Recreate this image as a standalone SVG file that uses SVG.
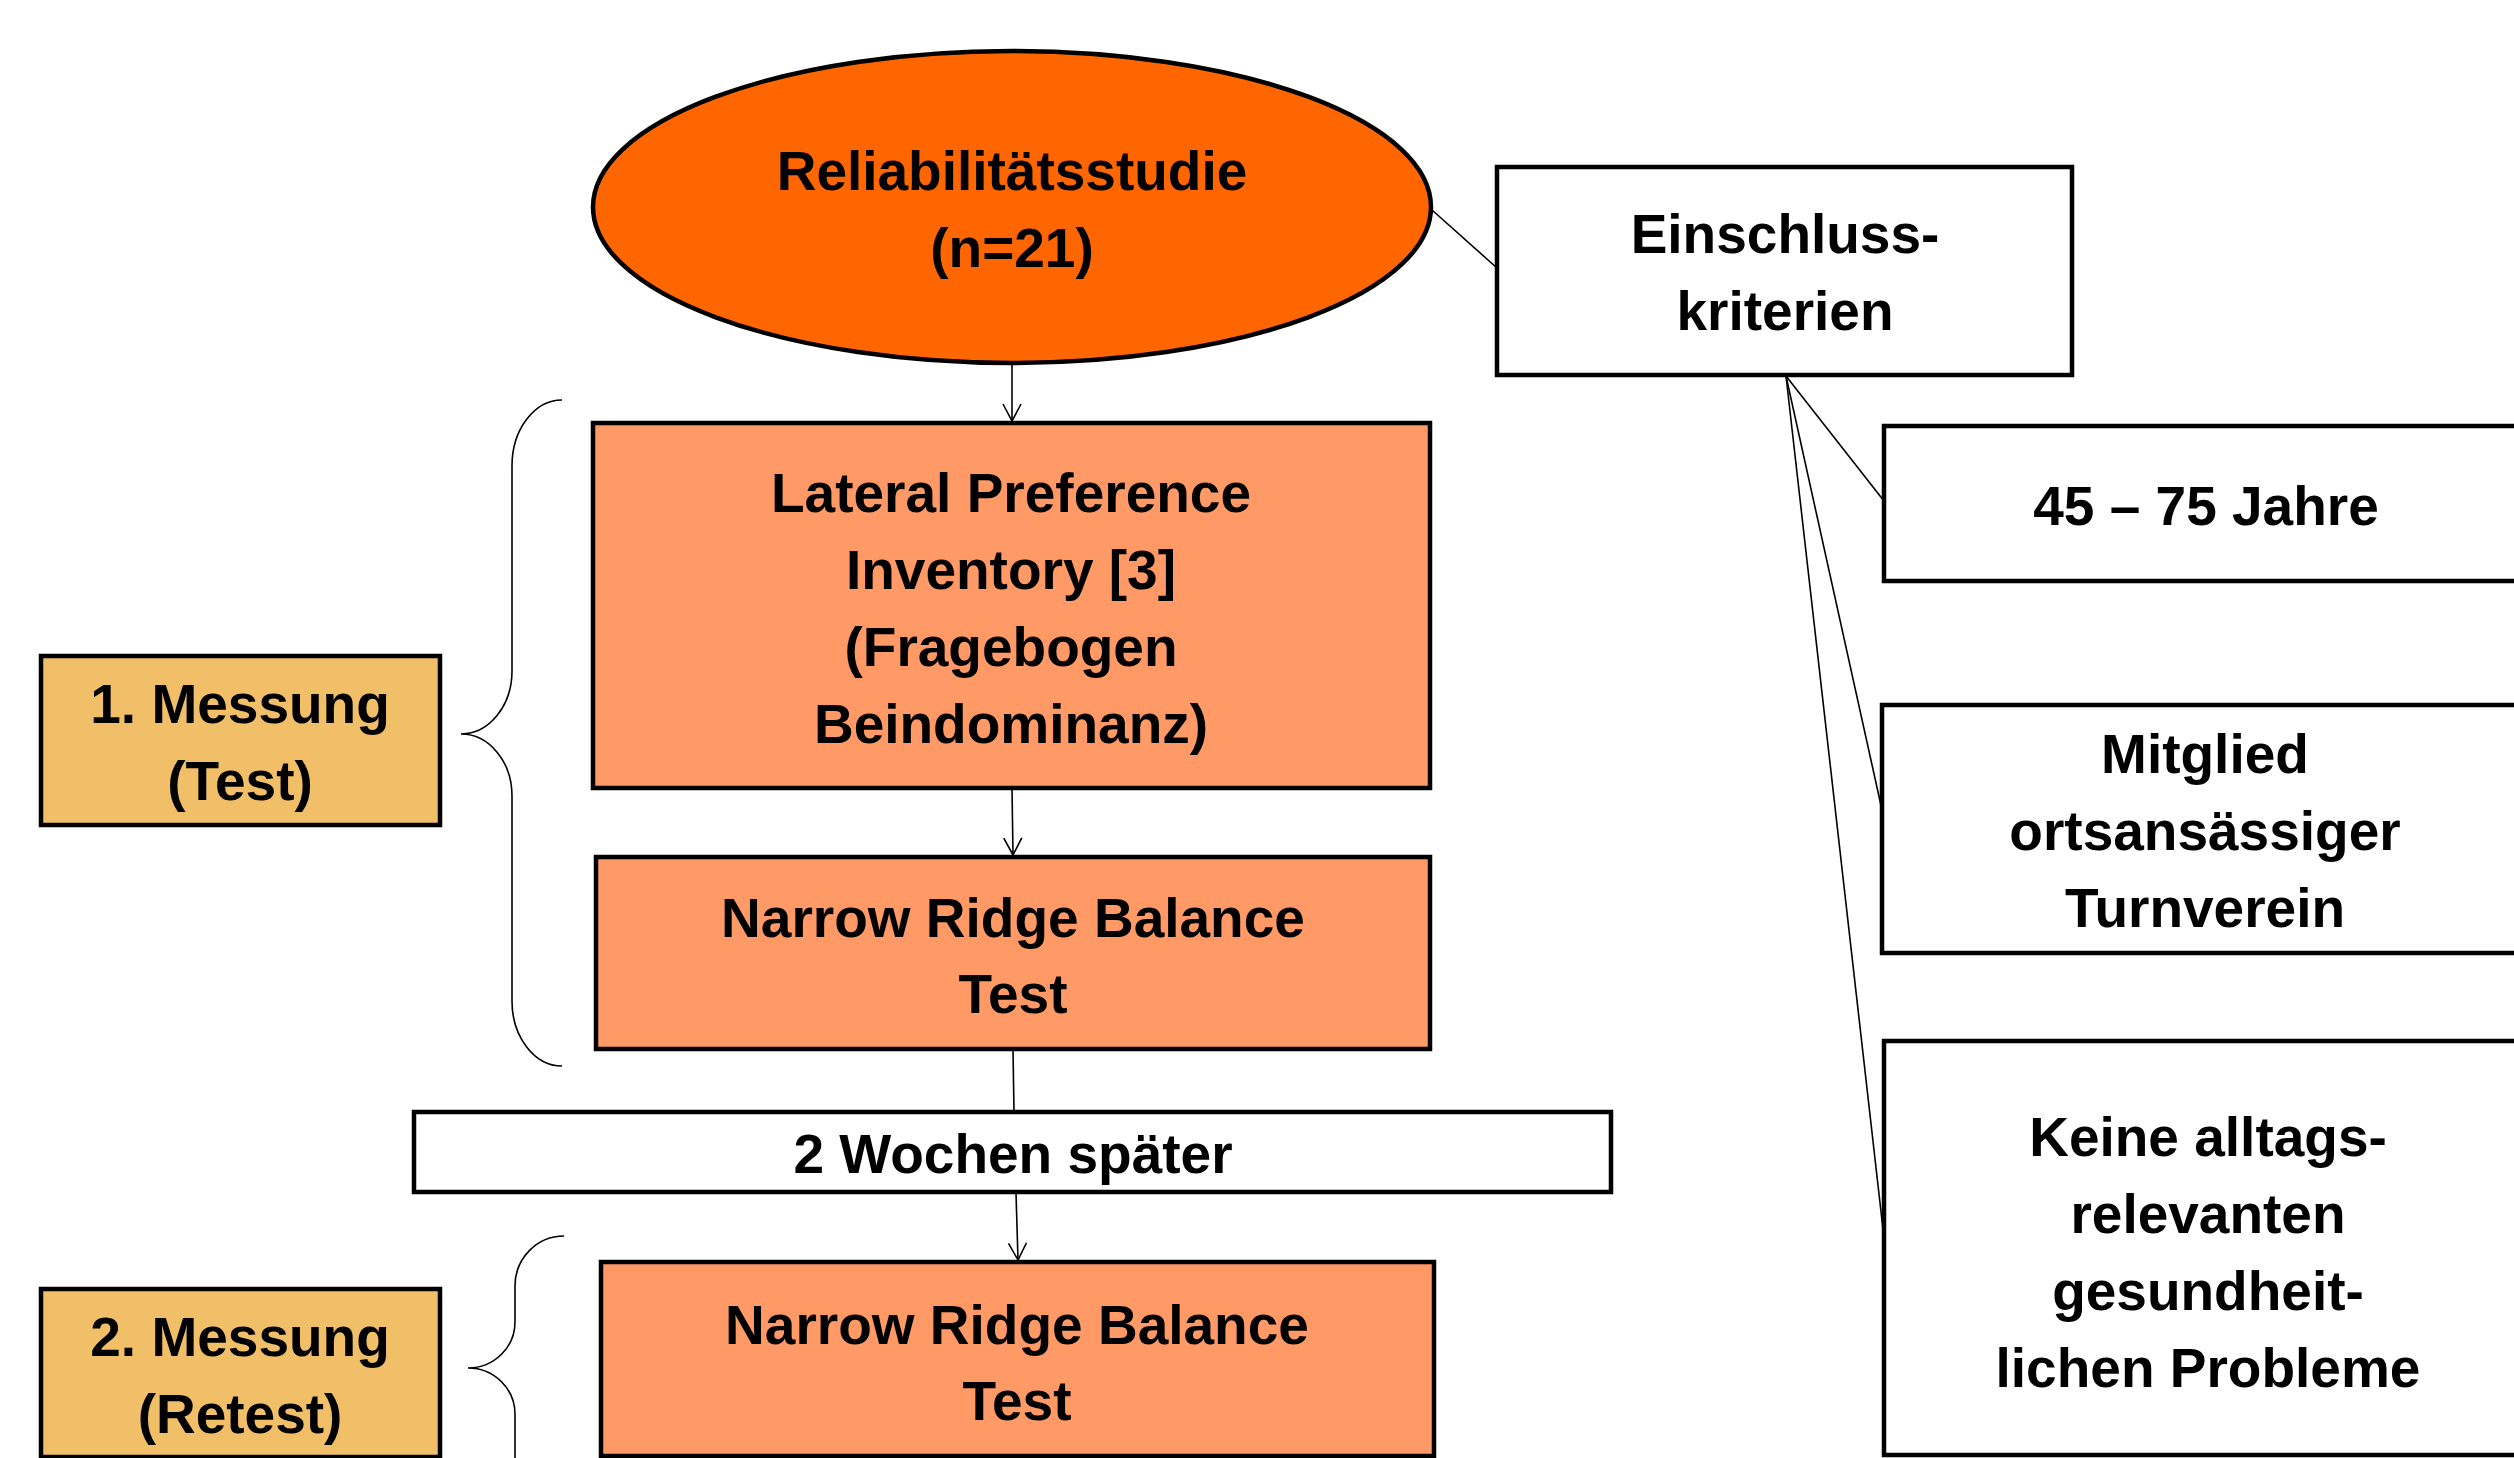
<svg xmlns="http://www.w3.org/2000/svg" width="2514" height="1458" viewBox="0 0 2514 1458">
<defs>
<style>
text{font-family:"Liberation Sans",Arial,sans-serif;font-weight:bold;font-size:55px;fill:#000;text-anchor:middle}
.box{stroke:#000;stroke-width:4.5}
.white{fill:#fff}
.test{fill:#FF9966}
.mess{fill:#F0BF68}
.con{stroke:#000;stroke-width:1.6;fill:none}
</style>
<marker id="arr" markerUnits="userSpaceOnUse" markerWidth="20" markerHeight="20" viewBox="0 0 20 20" refX="18" refY="10" orient="auto">
<path d="M1,1 L18,10 L1,19" fill="none" stroke="#000" stroke-width="1.6"/>
</marker>
</defs>
<rect width="2514" height="1458" fill="#fff"/>

<g id="connectors">
<line class="con" x1="1012" y1="363" x2="1012" y2="421" marker-end="url(#arr)"/>
<line class="con" x1="1012" y1="788" x2="1013" y2="855" marker-end="url(#arr)"/>
<line class="con" x1="1013" y1="1050" x2="1014" y2="1112"/>
<line class="con" x1="1016" y1="1193" x2="1018" y2="1260" marker-end="url(#arr)"/>
<line class="con" x1="1432" y1="210" x2="1497" y2="268"/>
<line class="con" x1="1786" y1="376" x2="1884" y2="501"/>
<line class="con" x1="1786" y1="376" x2="1884" y2="819"/>
<line class="con" x1="1786" y1="376" x2="1884" y2="1238"/>
<path class="con" d="M562,400 A50,66 0 0 0 512,466 L512,671 A51,63 0 0 1 461,734 A51,62 0 0 1 512,796 L512,1001 A50,65 0 0 0 562,1066"/>
<path class="con" d="M564,1236 A49,50 0 0 0 515,1286 L515,1322 A47,46 0 0 1 468,1368 A47,46 0 0 1 515,1414 L515,1470"/>
</g>

<g id="studie">
<ellipse class="box" cx="1012" cy="207" rx="419" ry="156" fill="#FF6600"/>
<text x="1012" y="190">Reliabilitätsstudie</text>
<text x="1012" y="267">(n=21)</text>
</g>

<g id="einschluss">
<rect class="box white" x="1497" y="167" width="575" height="208"/>
<text x="1785" y="253">Einschluss-</text>
<text x="1785" y="330">kriterien</text>
</g>

<g id="alter">
<rect class="box white" x="1884" y="426" width="646" height="155"/>
<text x="2206" y="525">45 – 75 Jahre</text>
</g>

<g id="mitglied">
<rect class="box white" x="1882" y="705" width="648" height="248"/>
<text x="2205" y="773">Mitglied</text>
<text x="2205" y="850">ortsansässiger</text>
<text x="2205" y="927">Turnverein</text>
</g>

<g id="keine">
<rect class="box white" x="1884" y="1041" width="646" height="414"/>
<text x="2208" y="1156">Keine alltags-</text>
<text x="2208" y="1233">relevanten</text>
<text x="2208" y="1310">gesundheit-</text>
<text x="2208" y="1387">lichen Probleme</text>
</g>

<g id="lpi">
<rect class="box test" x="593" y="423" width="837" height="365"/>
<text x="1011" y="512">Lateral Preference</text>
<text x="1011" y="589">Inventory [3]</text>
<text x="1011" y="666">(Fragebogen</text>
<text x="1011" y="743">Beindominanz)</text>
</g>

<g id="nrbt1">
<rect class="box test" x="596" y="857" width="834" height="192"/>
<text x="1013" y="937">Narrow Ridge Balance</text>
<text x="1013" y="1013">Test</text>
</g>

<g id="wochen">
<rect class="box white" x="414" y="1112" width="1197" height="80"/>
<text x="1013" y="1173">2 Wochen später</text>
</g>

<g id="nrbt2">
<rect class="box test" x="601" y="1262" width="833" height="194"/>
<text x="1017" y="1344">Narrow Ridge Balance</text>
<text x="1017" y="1420">Test</text>
</g>

<g id="messung1">
<rect class="box mess" x="41" y="656" width="399" height="169"/>
<text x="240" y="723">1. Messung</text>
<text x="240" y="800">(Test)</text>
</g>

<g id="messung2">
<rect class="box mess" x="41" y="1289" width="399" height="168"/>
<text x="240" y="1356">2. Messung</text>
<text x="240" y="1433">(Retest)</text>
</g>
</svg>
